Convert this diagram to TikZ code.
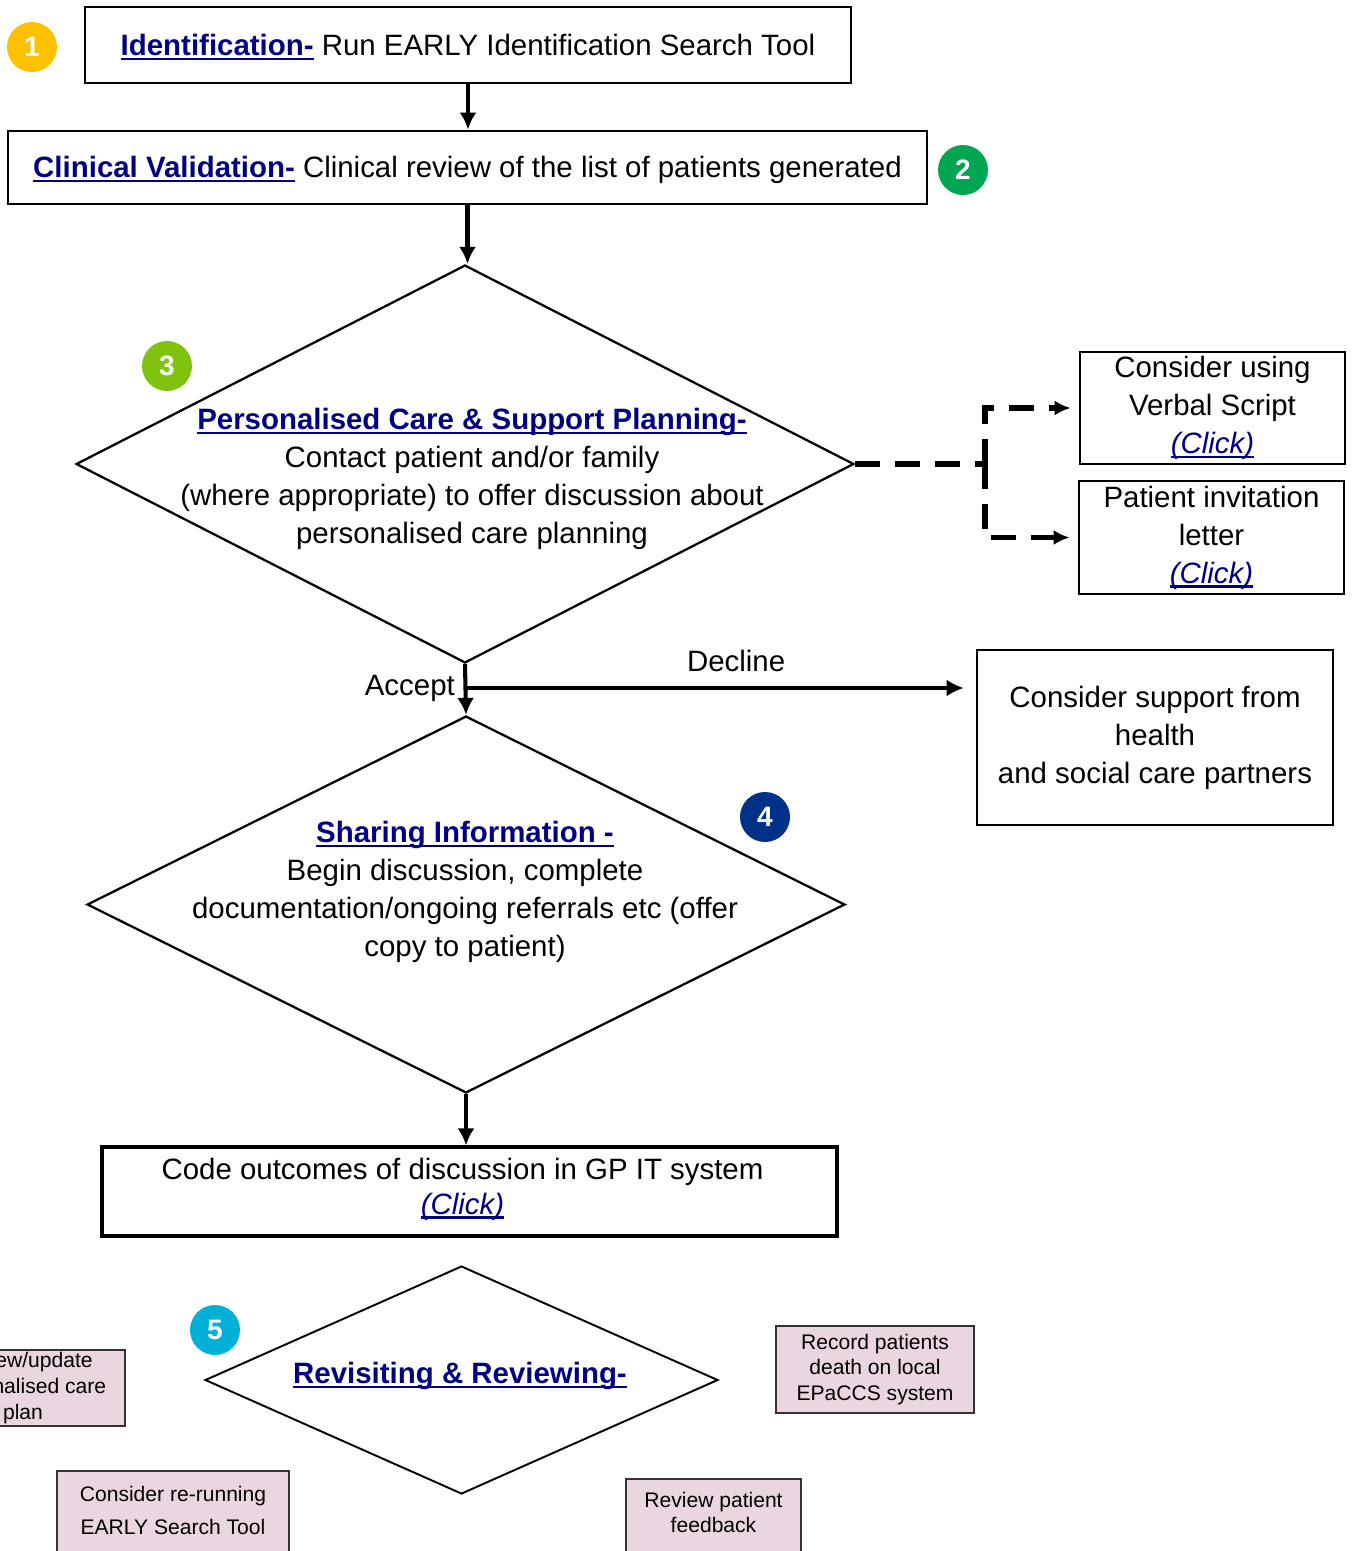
\documentclass[tikz,border=0pt]{standalone}
\usepackage{fontspec}
\setmainfont{Liberation Sans}
\usetikzlibrary{shapes.geometric,arrows.meta}
\definecolor{linkblue}{RGB}{0,0,128}
\definecolor{badgeyellow}{RGB}{255,192,0}
\definecolor{badgegreen}{RGB}{0,166,81}
\definecolor{badgelime}{RGB}{127,194,16}
\definecolor{badgenavy}{RGB}{0,48,135}
\definecolor{badgecyan}{RGB}{0,176,215}
\definecolor{pinkfill}{RGB}{234,214,225}
\newsavebox{\lnkbox}
\newcommand{\lnk}[1]{\textcolor{linkblue}{\sbox{\lnkbox}{#1}\rlap{\rule[-2.6pt]{\wd\lnkbox}{1.3pt}}\usebox{\lnkbox}}}
\newcommand{\mainsize}{\fontsize{16.75pt}{21.6pt}\selectfont}
\newcommand{\smallsize}{\fontsize{12pt}{14.6pt}\selectfont}
\tikzset{
  >={Latex[length=0.34cm,width=0.34cm]},
}
\tikzstyle{stepbox}=[draw,line width=1.6pt,inner sep=0pt,align=center]
\tikzstyle{decision}=[draw,diamond,line width=1.3pt,inner sep=0pt]
\tikzstyle{badge}=[circle,minimum size=1cm,inner sep=0pt,text=white,font=\fontsize{16pt}{16pt}\selectfont\bfseries]
\tikzstyle{pinkbox}=[draw=black!80,fill=pinkfill,line width=1.2pt,inner sep=0pt,align=center,font=\smallsize]
\tikzstyle{flow}=[->,line width=2.3pt]
\tikzstyle{optional}=[->,line width=3.2pt,dash pattern=on 0.5cm off 0.3cm,>={Latex[length=0.32cm,width=0.3cm]}]
\tikzstyle{every node}=[font=\mainsize]

\begin{document}
\begin{tikzpicture}[x=0.02cm,y=-0.02cm]
    \useasboundingbox (0,0) rectangle (1357,1551);
    \clip (0,0) rectangle (1357,1551);

    % steps 1 and 2
    \node[stepbox,minimum width=15.32cm,minimum height=1.52cm] (ident) at (468,45)
    {\rule{0pt}{15pt}\lnk{\textbf{Identification-}} Run EARLY Identification Search Tool};
    \node[badge,fill=badgeyellow] (one) at (32,47) {1};
    \node[stepbox,minimum width=18.38cm,minimum height=1.46cm] (valid) at (467.5,167.5)
    {\rule{0pt}{15pt}\lnk{\textbf{Clinical Validation-}} Clinical review of the list of patients generated};
    \node[badge,fill=badgegreen] (two) at (963,170) {2};
    \draw[flow] (ident.south) -- (ident.south |- valid.north);

    % step 3
    \node[decision,minimum width=15.56cm,minimum height=7.96cm] (plan) at (465,464) {};
    \node[align=center] (plantext) at (472,479)
    {\lnk{\textbf{Personalised Care \& Support Planning-}}\\Contact patient and/or family\\(where appropriate) to offer discussion about\\personalised care planning};
    \node[badge,fill=badgelime] (three) at (167,366) {3};
    \draw[flow] (valid.south) -- (valid.south |- plan.north);

    \node[stepbox,minimum width=5.3cm,minimum height=2.24cm] (verbal) at (1212.5,408)
    {Consider using\\Verbal Script\\\lnk{\textit{(Click)}}};
    \node[stepbox,minimum width=5.3cm,minimum height=2.26cm] (invite) at (1211.5,537.5)
    {Patient invitation\\letter\\\lnk{\textit{(Click)}}};
    \coordinate (split) at (985,464);
    \draw[optional,-] (plan.east) -- (split);
    \draw[optional,shorten >=0.16cm] (split) |- (verbal.west);
    \draw[optional,shorten >=0.16cm] (split) |- (invite.west);

    % step 4
    \node[decision,minimum width=15.16cm,minimum height=7.54cm] (share) at (466,904.5) {};
    \node[align=center] (sharetext) at (465,892)
    {\lnk{\textbf{Sharing Information -}}\\Begin discussion, complete\\documentation/ongoing referrals etc (offer\\copy to patient)};
    \node[badge,fill=badgenavy] (four) at (765,817) {4};
    \node[stepbox,line width=1.5pt,minimum width=7.12cm,minimum height=3.5cm] (partners) at (1155,737.5)
    {Consider support from\\health\\and social care partners};
    \coordinate (acc) at (466,688);
    \draw[flow] (plan.south) -- (share.north);
    \node[left=0.1cm] (acclbl) at (acc) {Accept};
    \draw[flow,shorten >=0.24cm] (acc) -- (acc -| partners.west) node[pos=.53,above=4.5pt] (declbl) {Decline};

    \node[stepbox,line width=1.8pt,minimum width=14.7cm,minimum height=1.78cm] (code) at (469.5,1191.5)
    {Code outcomes of discussion in GP IT system\hspace*{0.28cm}\\[-0.06cm]\lnk{\textit{(Click)}}\hspace{0.28cm}\rule[-0.22cm]{0pt}{0.1cm}};
    \draw[flow] (share.south) -- (share.south |- code.north);

    % step 5
    \node[decision,line width=1.1pt,minimum width=10.26cm,minimum height=4.56cm] (revisit) at (461.5,1380) {};
    \node (revisittext) at (460,1376) {\lnk{\textbf{Revisiting \& Reviewing-}}};
    \node[badge,fill=badgecyan] (five) at (215,1330) {5};

    \node[pinkbox,minimum width=4.08cm,minimum height=1.52cm] (careplan) at (23,1388)
    {Review/update\\personalised care\\plan};
    \node[pinkbox,minimum width=4.64cm,minimum height=2.24cm] (rerun) at (173,1527)
    {Consider re-running\\[0.15cm]EARLY Search Tool\\[0.15cm]\mbox{}};
    \node[pinkbox,minimum width=3.96cm,minimum height=1.74cm] (epaccs) at (875,1369.5)
    {Record patients\\death on local\\EPaCCS system};
    \node[pinkbox,minimum width=3.5cm,minimum height=1.84cm] (feedback) at (713.5,1525)
    {Review patient\\feedback\\\mbox{}};
\end{tikzpicture}
\end{document}
